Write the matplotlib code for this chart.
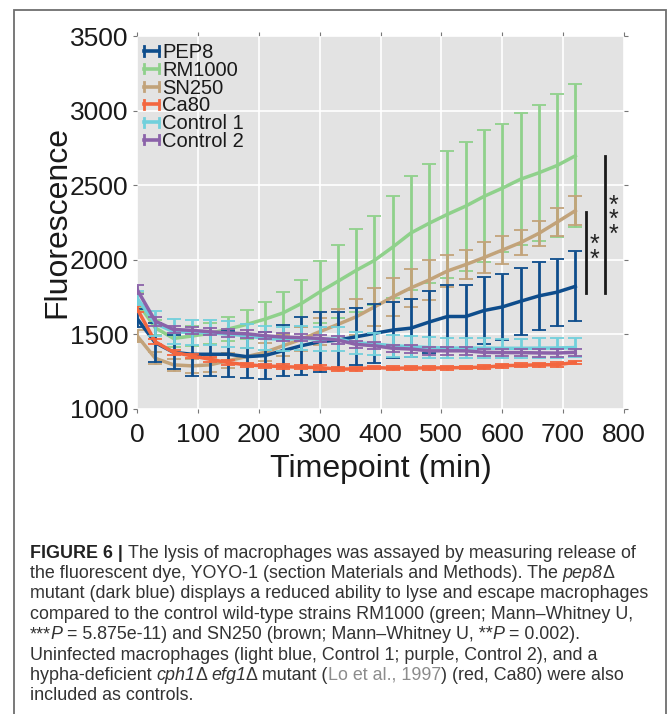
import matplotlib
matplotlib.use("Agg")
import matplotlib.pyplot as plt
from matplotlib.lines import Line2D
from matplotlib.legend_handler import HandlerBase
from matplotlib.patches import Rectangle

# ---------------- data ----------------
timepoints = [0, 30, 60, 90, 120, 150, 180, 210, 240, 270, 300, 330, 360,
              390, 420, 450, 480, 510, 540, 570, 600, 630, 660, 690, 720]

series_names = ["PEP8", "RM1000", "SN250", "Ca80", "Control 1", "Control 2"]

pep8 = [1607, 1444, 1380, 1367, 1367, 1367, 1351, 1358, 1391, 1424, 1451, 1462, 1484,
        1507, 1529, 1542, 1583, 1620, 1620, 1660, 1684, 1722, 1758, 1783, 1822]
rm1000 = [1718, 1544, 1473, 1489, 1507, 1536, 1567, 1602, 1644, 1707, 1784, 1856, 1929,
          1996, 2085, 2180, 2245, 2305, 2360, 2425, 2480, 2540, 2583, 2632, 2697]
sn250 = [1491, 1340, 1296, 1289, 1296, 1324, 1351, 1380, 1424, 1467, 1518, 1567, 1618,
         1684, 1751, 1812, 1865, 1925, 1968, 2015, 2065, 2115, 2177, 2252, 2329]
ca80 = [1673, 1451, 1380, 1356, 1333, 1311, 1296, 1289, 1284, 1280, 1278, 1267, 1269,
        1278, 1273, 1275, 1275, 1276, 1278, 1280, 1290, 1293, 1296, 1297, 1312]
control1 = [1744, 1573, 1518, 1513, 1511, 1502, 1491, 1473, 1467, 1473, 1469, 1469, 1444,
            1436, 1424, 1418, 1412, 1408, 1408, 1408, 1407, 1407, 1408, 1409, 1412]
control2 = [1802, 1589, 1533, 1527, 1518, 1509, 1504, 1491, 1482, 1478, 1473, 1462, 1433,
            1424, 1407, 1402, 1390, 1390, 1390, 1380, 1378, 1378, 1376, 1375, 1380]

pep8_err = [60, 130, 115, 145, 145, 155, 140, 155, 170, 195, 200, 190, 190,
            200, 190, 195, 205, 210, 208, 225, 220, 225, 228, 225, 235]
rm1000_err = [60, 50, 60, 70, 70, 80, 95, 115, 140, 160, 205, 245, 280,
              300, 340, 380, 400, 425, 432, 443, 430, 443, 455, 476, 480]
sn250_err = [40, 40, 40, 45, 45, 50, 55, 60, 70, 80, 90, 100, 120,
             125, 130, 127, 133, 106, 99, 105, 93, 85, 82, 94, 98]
ca80_err = [20, 15, 15, 15, 15, 15, 15, 15, 15, 15, 15, 12, 12,
            12, 12, 12, 12, 12, 12, 12, 12, 12, 12, 15, 12]
control1_err = [50, 85, 85, 85, 85, 85, 80, 80, 80, 80, 80, 80, 75,
                75, 75, 70, 70, 68, 68, 66, 65, 65, 65, 65, 63]
control2_err = [30, 30, 25, 25, 25, 25, 25, 25, 25, 25, 25, 25, 25,
                25, 25, 25, 25, 25, 25, 25, 25, 25, 25, 25, 25]

x_ticks = [0, 100, 200, 300, 400, 500, 600, 700, 800]
y_ticks = [1000, 1500, 2000, 2500, 3000, 3500]

# significance brackets: (x, y_low, y_high, stars, star_x, star_y)
sig_bars = [(737, 1780, 2323, "*\n*", 751, 2050),
            (769, 1780, 2698, "*\n*\n*", 782, 2265)]

# caption: pieces of (text, style) ; n = normal, b = bold, i = italic, l = link
caption_lines = [
    [("FIGURE 6 | ", "b"), ("The lysis of macrophages was assayed by measuring release of", "n")],
    [("the fluorescent dye, YOYO-1 (section Materials and Methods). The ", "n"),
     ("pep8", "i"), ("Δ", "n")],
    [("mutant (dark blue) displays a reduced ability to lyse and escape macrophages", "n")],
    [("compared to the control wild-type strains RM1000 (green; Mann–Whitney U,", "n")],
    [("***", "n"), ("P ", "i"), ("= 5.875e-11) and SN250 (brown; Mann–Whitney U, **", "n"),
     ("P ", "i"), ("= 0.002).", "n")],
    [("Uninfected macrophages (light blue, Control 1; purple, Control 2), and a", "n")],
    [("hypha-deficient ", "n"), ("cph1", "i"), ("Δ ", "n"), ("efg1", "i"),
     ("Δ mutant (", "n"), ("Lo et al., 1997", "l"), (") (red, Ca80) were also", "n")],
    [("included as controls.", "n")],
]

# ---------------- style ----------------
plt.rcParams["font.family"] = ["Liberation Sans", "DejaVu Sans"]

colors = ["#0e4d8c", "#8fd18b", "#c2a37a", "#f3663f", "#71d0dc", "#8b62a9"]
values = [pep8, rm1000, sn250, ca80, control1, control2]
errors = [pep8_err, rm1000_err, sn250_err, ca80_err, control1_err, control2_err]
zorders = [4, 2, 3, 5, 6, 7]

W, H = 672, 714
fig = plt.figure(figsize=(W / 100, H / 100), dpi=100)
fig.patch.set_facecolor("white")

ax_l, ax_r, ax_t, ax_b = 137, 624, 36, 409
ax = fig.add_axes([ax_l / W, 1 - ax_b / H, (ax_r - ax_l) / W, (ax_b - ax_t) / H])
ax.set_facecolor("#e3e3e3")
for s in ax.spines.values():
    s.set_visible(False)
ax.grid(True, color="white", linewidth=1.2)
ax.set_axisbelow(True)

handles = []
for name, c, v, e, z in zip(series_names, colors, values, errors, zorders):
    ax.errorbar(timepoints, v, yerr=e, color=c, lw=2.5, elinewidth=2.0,
                capsize=5, capthick=1.3, zorder=z, label=name)
    handles.append(Line2D([], [], color=c, label=name))

for (sx, y0, y1, stars, tx, ty) in sig_bars:
    ax.plot([sx, sx], [y0, y1], color="#1a1a1a", lw=2.0, zorder=8)
    ax.text(tx, ty, stars, ha="center", va="center", fontsize=18,
            linespacing=0.5, color="#222222", zorder=8)

ax.set_xlim(0, 800)
ax.set_ylim(1000, 3500)
ax.set_xticks(x_ticks)
ax.set_yticks(y_ticks)
ax.tick_params(which="both", direction="out", length=3, width=0.8, color="#777777",
               top=True, right=True, labeltop=False, labelright=False,
               labelsize=19, labelcolor="#1a1a1a")
ax.tick_params(axis="x", pad=7)
ax.tick_params(axis="y", pad=3)

ax.set_xlabel("Timepoint (min)", fontsize=23, color="#1a1a1a")
ax.set_ylabel("Fluorescence", fontsize=23, color="#1a1a1a")
ax.xaxis.set_label_coords(0.5, -0.12)
ax.yaxis.set_label_coords(-0.132, 0.5)


class HBarHandler(HandlerBase):
    def create_artists(self, legend, orig_handle, xdescent, ydescent,
                       width, height, fontsize, trans):
        c = orig_handle.get_color()
        y = height / 2 - ydescent
        x0, x1 = -xdescent, -xdescent + width
        hh = height * 0.32
        arts = [Line2D([x0, x1], [y, y], color=c, lw=2.6, transform=trans),
                Line2D([x0, x0], [y - hh, y + hh], color=c, lw=2.0, transform=trans),
                Line2D([x1, x1], [y - hh, y + hh], color=c, lw=2.0, transform=trans)]
        return arts


leg = ax.legend(handles=handles, loc="upper left", frameon=False,
                fontsize=14.5, handlelength=0.75, handleheight=0.7,
                handletextpad=0.15, labelspacing=-0.06, borderpad=0.0,
                borderaxespad=0.35,
                handler_map={Line2D: HBarHandler()})
for t in leg.get_texts():
    t.set_color("#1a1a1a")
leg.set_zorder(10)

# ---------------- frame box ----------------
fig.add_artist(Rectangle((14 / W, -0.05), (666 - 14) / W, (H - 10) / H + 0.05,
                         transform=fig.transFigure, fill=False,
                         edgecolor="#6e6e6e", linewidth=1.3))

# ---------------- caption ----------------
renderer = fig.canvas.get_renderer()


def style_kw(kind, fs):
    kw = dict(fontsize=fs, color="#333333")
    if kind == "b":
        kw["fontweight"] = "bold"
        kw["color"] = "#222222"
    elif kind == "i":
        kw["fontstyle"] = "italic"
    elif kind == "l":
        kw["color"] = "#8c8c8c"
    return kw


def text_w(s, kw):
    t = fig.text(0, 0, s, **kw)
    w = t.get_window_extent(renderer).width
    t.remove()
    return w


def advance(s, kw):
    return text_w(s + "x", kw) - text_w("x", kw)


cap_fs = 10 * 619.0 / text_w(caption_lines[2][0][0], style_kw("n", 10))

cap_left = 30
base0 = 557.5
step = 20.4
for i, line in enumerate(caption_lines):
    x = cap_left
    yb = 1 - (base0 + i * step) / H
    for txt, kind in line:
        kw = style_kw(kind, cap_fs)
        fig.text(x / W, yb, txt, va="baseline", ha="left", **kw)
        x += advance(txt, kw)

fig.savefig("out.png", dpi=100)
